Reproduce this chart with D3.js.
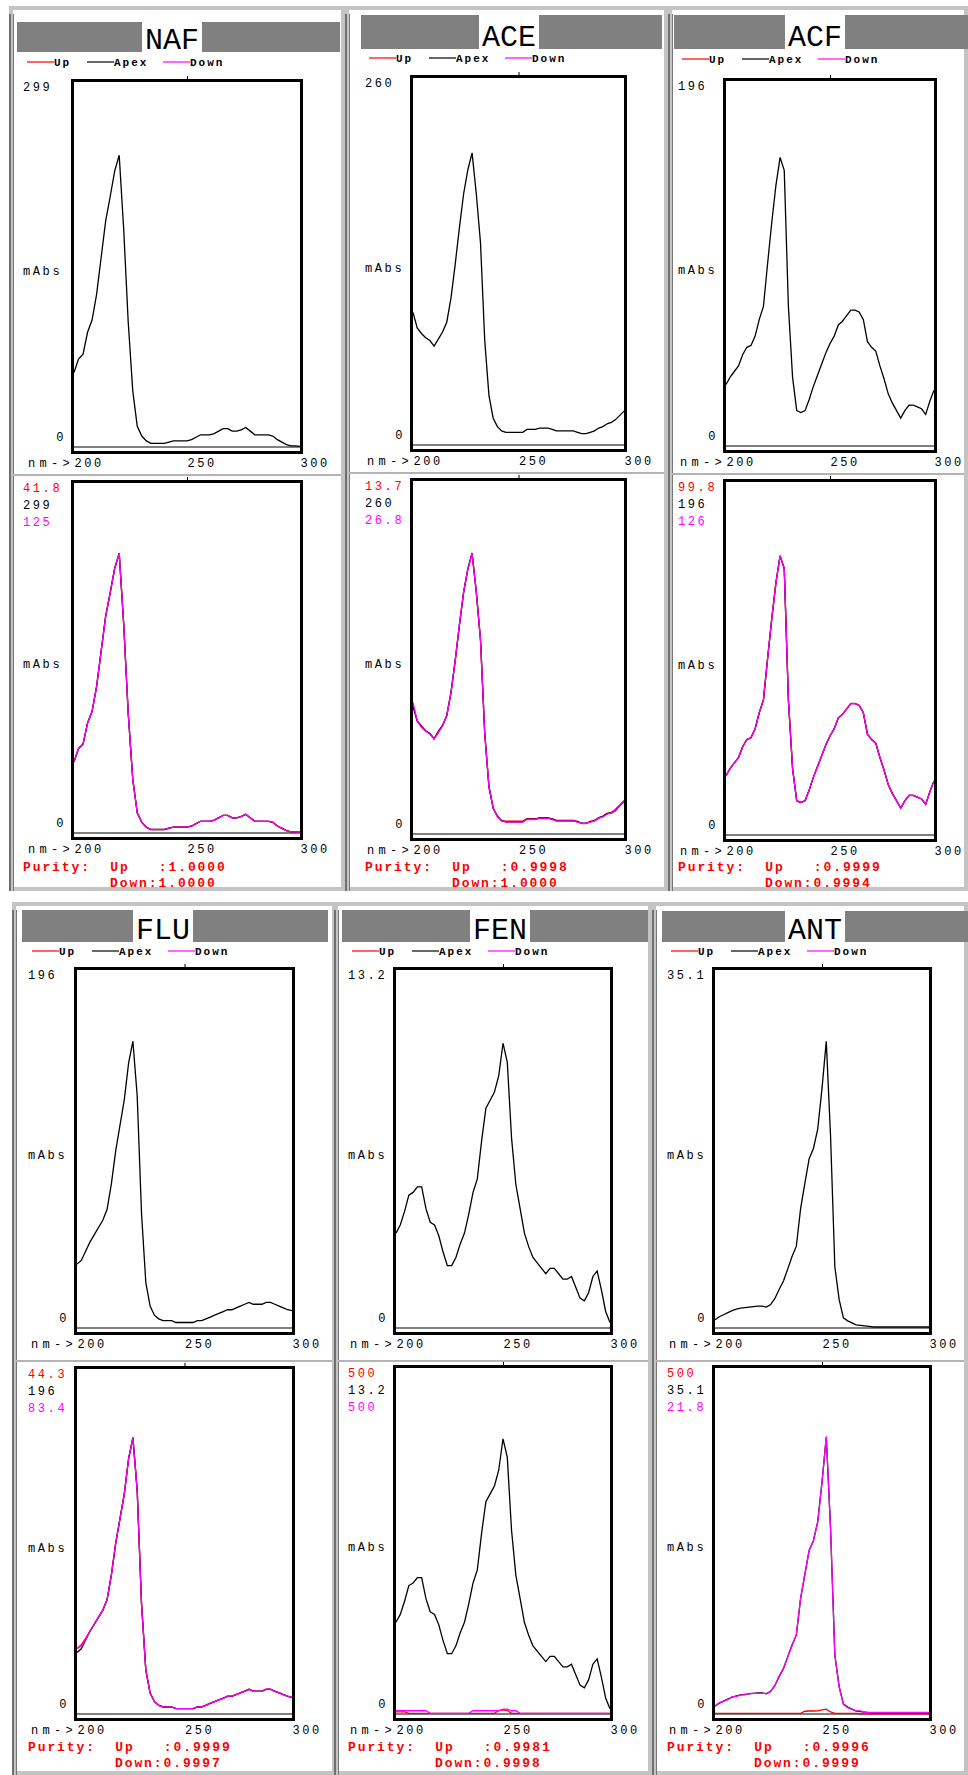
<!DOCTYPE html>
<html>
<head>
<meta charset="utf-8">
<script src="https://cdn.jsdelivr.net/npm/d3@7"></script>
<style>
body { margin: 0; background: #fff; }
svg text { font-family: "Liberation Mono", monospace; }
.pre { white-space: pre; }
</style>
</head>
<body>
<div id="chart"></div>
<script>
// wavelength grid shared by every spectrum (nm)
var wavelengths = [200,202,204,206,208,210,212,214,216,218,220,222,224,226,228,230,232,234,236,238,240,
                   242,244,246,248,250,252,254,256,258,260,262,264,266,268,270,272,274,276,278,280,
                   282,284,286,288,290,292,294,296,298,300];
var xTickValues = [200, 250, 300];
var seriesNames = ["Up", "Apex", "Down"];
var compounds = ["NAF", "ACE", "ACF", "FLU", "FEN", "ANT"];

// scale maxima printed on the plots: [up, apex, down]
var nafMax = [41.8, 299, 125];
var aceMax = [13.7, 260, 26.8];
var acfMax = [99.8, 196, 126];
var fluMax = [44.3, 196, 83.4];
var fenMax = [500, 13.2, 500];
var antMax = [500, 35.1, 21.8];

// purity: [up, down]
var nafPurity = ["1.0000", "1.0000"];
var acePurity = ["0.9998", "1.0000"];
var acfPurity = ["0.9999", "0.9994"];
var fluPurity = ["0.9999", "0.9997"];
var fenPurity = ["0.9981", "0.9998"];
var antPurity = ["0.9996", "0.9999"];

// spectra (mAbs)
var nafApex = [61,72,76,94,104,125,155,185,205,226,239,178,102,46,17,9,5,3,3,3,3,4,5,5,5,5,6,8,10,10,10,11,13,15,15,13,13,14,16,13,10,10,10,10,9,6,4,2,1,1,0.5];
var nafUp = [8.5,10.1,10.6,13.1,14.5,17.5,21.7,25.9,28.7,31.6,33.4,24.9,14.3,6.4,2.4,1.3,0.7,0.4,0.4,0.4,0.4,0.6,0.7,0.7,0.7,0.7,0.8,1.1,1.4,1.4,1.4,1.5,1.8,2.1,2.1,1.8,1.8,2.0,2.2,1.8,1.4,1.4,1.4,1.4,1.3,0.8,0.6,0.3,0.1,0.1,0.1];
var nafDown = [25.5,30.1,31.8,39.3,43.5,52.3,64.8,77.3,85.7,94.5,99.9,74.4,42.6,19.2,7.1,3.8,2.1,1.3,1.3,1.3,1.3,1.7,2.1,2.1,2.1,2.1,2.5,3.3,4.2,4.2,4.2,4.6,5.4,6.3,6.3,5.4,5.4,5.9,6.7,5.4,4.2,4.2,4.2,4.2,3.8,2.5,1.7,0.8,0.4,0.4,0.2];

var aceApex = [94,83,79,76,74,70,75,80,87,104,128,154,178,195,207,178,143,74,35,19,13,10,9,9,9,9,9,11,11,11,12,12,12,11,10,10,10,10,10,9,8,8,9,10,12,13,15,16,18,21,24];
var aceUp = [5.0,4.4,4.2,4.0,3.9,3.7,4.0,4.2,4.6,5.5,6.7,8.1,9.4,10.3,10.9,9.4,7.5,3.9,1.8,1.0,0.7,0.5,0.5,0.5,0.5,0.5,0.5,0.6,0.6,0.6,0.6,0.6,0.6,0.6,0.5,0.5,0.5,0.5,0.5,0.5,0.4,0.4,0.5,0.5,0.6,0.7,0.8,0.8,0.9,1.1,1.3];
var aceDown = [10.0,8.6,8.1,7.8,7.6,7.2,7.7,8.2,9.0,10.7,13.2,15.9,18.4,20.1,21.3,18.4,14.7,7.6,3.6,2.0,1.3,1.0,0.9,0.9,0.9,0.9,0.9,1.1,1.1,1.1,1.2,1.2,1.2,1.1,1.0,1.0,1.0,1.0,1.0,0.9,0.8,0.8,0.9,1.0,1.2,1.3,1.5,1.6,1.9,2.2,2.5];

var acfApex = [33,37,40,43,49,53,54,59,68,75,98,120,140,155,148,75,37,19,18,19,25,32,38,44,50,55,59,65,67,70,73,73,72,68,56,53,51,43,36,28,23,19,15,19,22,22,21,20,17,24,30];
var acfUp = [16.8,18.8,20.4,21.9,24.9,27.0,27.5,30.0,34.6,38.2,49.9,61.1,71.3,78.9,75.3,38.2,18.8,9.7,9.2,9.7,12.7,16.3,19.3,22.4,25.5,28.0,30.0,33.1,34.1,35.6,37.2,37.2,36.6,34.6,28.5,27.0,26.0,21.9,18.3,14.3,11.7,9.7,7.6,9.7,11.2,11.2,10.7,10.2,8.7,12.2,15.3];
var acfDown = [21.2,23.8,25.7,27.6,31.5,34.1,34.7,37.9,43.7,48.2,63.0,77.2,90.0,99.7,95.2,48.2,23.8,12.2,11.6,12.2,16.1,20.6,24.4,28.3,32.2,35.4,37.9,41.8,43.1,45.0,46.9,46.9,46.3,43.7,36.0,34.1,32.8,27.6,23.1,18.0,14.8,12.2,9.6,12.2,14.1,14.1,13.5,12.9,10.9,15.4,19.3];

var fluApex = [35,37,42,47,51,55,59,65,79,97,111,125,145,157,127,63,25,12,7,5,4,4,4,3,3,3,3,3,4,4,5,6,7,8,9,10,10,11,12,13,14,13,13,13,14,14,13,12,11,10,9.5];
var fluUp = [8.4,8.9,9.7,10.6,11.5,12.4,13.3,14.7,17.9,21.9,25.1,28.3,32.8,35.5,28.7,14.2,5.7,2.7,1.6,1.1,0.9,0.9,0.9,0.7,0.7,0.7,0.7,0.7,0.9,0.9,1.1,1.4,1.6,1.8,2.0,2.3,2.3,2.5,2.7,2.9,3.2,2.9,2.9,2.9,3.2,3.2,2.9,2.7,2.5,2.3,2.1];
var fluDown = [15.8,16.5,18.0,20.0,21.7,23.4,25.1,27.7,33.6,41.3,47.2,53.2,61.7,66.8,54.0,26.8,10.6,5.1,3.0,2.1,1.7,1.7,1.7,1.3,1.3,1.3,1.3,1.3,1.7,1.7,2.1,2.6,3.0,3.4,3.8,4.3,4.3,4.7,5.1,5.5,6.0,5.5,5.5,5.5,6.0,6.0,5.5,5.1,4.7,4.3,4.0];

var fenApex = [3.5,3.8,4.3,4.9,5.0,5.2,5.2,4.4,3.9,3.8,3.4,2.8,2.3,2.3,2.6,3.1,3.5,4.2,5.0,5.5,6.9,8.1,8.4,8.7,9.3,10.5,9.8,7.0,5.3,4.4,3.5,3.0,2.6,2.4,2.2,2.0,2.2,2.2,2.0,1.8,1.8,1.9,1.5,1.1,1.0,1.3,1.9,2.1,1.4,0.6,0.2];
var fenUp = [3,3,3,1,1,1,1,1,1,1,1,1,1,1,1,1,1,1,1,1,1,1,1,1,5,6,5,1,1,1,1,1,1,1,1,1,1,1,1,1,1,1,1,1,1,1,1,1,1,1,1];
var fenDown = [4.7,4.7,4.7,4.7,4.7,4.7,4.7,4.7,1,1,1,1,1,1,1,1,1,1,4.7,4.7,4.7,4.7,4.7,4.7,4.7,7,7,4.7,4.7,1,1,1,1,1,1,1,1,1,1,1,1,1,1,1,1,1,1,1,1,1,1];

var antApex = [0.8,1.1,1.3,1.5,1.7,1.85,1.95,2.0,2.05,2.1,2.15,2.15,2.05,2.3,2.9,3.8,4.6,5.8,7.0,8.0,11.7,14.2,16.6,17.6,19.5,23.5,28.1,18.8,6.0,2.8,1.0,0.7,0.5,0.3,0.25,0.2,0.15,0.1,0.1,0.1,0.1,0.1,0.1,0.1,0.1,0.1,0.1,0.1,0.1,0.1,0.1];
var antUp = [1,1,1,1,1,1,1,1,1,1,1,1,1,1,1,1,1,1,1,1,1,4,4.3,4.3,4.5,6,7,3,1,1,1,1,1,1,0.3,0.3,0.3,0.3,0.3,0.3,0.3,0.3,0.3,0.3,0.3,0.3,0.3,0.3,0.3,0.3,0.3];
var antDown = [0.5,0.7,0.8,0.9,1.1,1.1,1.2,1.2,1.3,1.3,1.3,1.3,1.3,1.4,1.8,2.4,2.9,3.6,4.3,5.0,7.3,8.8,10.3,10.9,12.1,14.6,17.5,11.7,3.7,1.7,0.6,0.4,0.3,0.2,0.2,0.1,0.1,0.1,0.1,0.1,0.1,0.1,0.1,0.1,0.1,0.1,0.1,0.1,0.1,0.1,0.1];

var colors = {Up: "#ff0000", Apex: "#000000", Down: "#ff00ff"};

// screen layout of each window: frame, title bar, plot boxes [x0, y0, x1, y1]
var layout = [
  {frame: [9, 6, 345, 891], bar: [17, 22, 340, 52], titleX: 172, legendY: 62, top: [71, 79, 303, 454], bottom: [71, 480, 303, 840], sep: 475, labelX: 23, purityY: 867},
  {frame: [345, 6, 668, 891], bar: [361, 15, 662, 49], titleX: 509, legendY: 58, top: [410, 75, 627, 452], bottom: [410, 478, 627, 841], sep: 473, labelX: 365, purityY: 867},
  {frame: [668, 6, 968, 891], bar: [674, 15, 968, 49], titleX: 815, legendY: 59, top: [723, 78, 937, 453], bottom: [723, 479, 937, 842], sep: 474, labelX: 678, purityY: 867},
  {frame: [12, 902, 336, 1775], bar: [22, 910, 328, 942], titleX: 163, legendY: 951, top: [74, 967, 295, 1335], bottom: [74, 1366, 295, 1721], sep: 1361, labelX: 28, purityY: 1747},
  {frame: [334, 902, 652, 1775], bar: [342, 910, 648, 942], titleX: 500, legendY: 951, top: [393, 967, 613, 1335], bottom: [393, 1365, 613, 1721], sep: 1361, labelX: 348, purityY: 1747},
  {frame: [652, 902, 968, 1775], bar: [662, 911, 968, 942], titleX: 815, legendY: 951, top: [712, 967, 932, 1335], bottom: [712, 1365, 932, 1721], sep: 1361, labelX: 667, purityY: 1747}
];

var panels = [
  {apex: nafApex, up: nafUp, down: nafDown, max: nafMax, purity: nafPurity},
  {apex: aceApex, up: aceUp, down: aceDown, max: aceMax, purity: acePurity},
  {apex: acfApex, up: acfUp, down: acfDown, max: acfMax, purity: acfPurity},
  {apex: fluApex, up: fluUp, down: fluDown, max: fluMax, purity: fluPurity},
  {apex: fenApex, up: fenUp, down: fenDown, max: fenMax, purity: fenPurity},
  {apex: antApex, up: antUp, down: antDown, max: antMax, purity: antPurity}
];

var svg = d3.select("#chart").append("svg")
    .attr("width", 968)
    .attr("height", 1775);

function small(g, x, y, txt, color) {
    return g.append("text")
        .attr("x", x).attr("y", y)
        .attr("font-size", 12)
        .attr("letter-spacing", 2.6)
        .attr("fill", color || "#000")
        .text(txt);
}

function plot(g, b, series, L) {
    var x = d3.scaleLinear().domain([200, 300]).range([b[0] + 3, b[2] - 3]);

    // zero line just above the bottom border
    g.append("line")
        .attr("x1", b[0] + 3).attr("x2", b[2] - 3)
        .attr("y1", b[3] - 7).attr("y2", b[3] - 7)
        .attr("stroke", "#000").attr("stroke-width", 1);

    series.forEach(function(s) {
        var y = d3.scaleLinear().domain([0, s.max]).range([b[3] - 7, b[1] + 3]);
        var line = d3.line()
            .x(function(d, i) { return x(wavelengths[i]); })
            .y(function(d) { return y(d); });
        g.append("path")
            .datum(s.values)
            .attr("d", line)
            .attr("fill", "none")
            .attr("stroke", s.color)
            .attr("stroke-width", 1.3);
    });

    g.append("rect")
        .attr("x", b[0] + 1.5).attr("y", b[1] + 1.5)
        .attr("width", b[2] - b[0] - 3).attr("height", b[3] - b[1] - 3)
        .attr("fill", "none").attr("stroke", "#000").attr("stroke-width", 3);

    // little tick on the top border
    g.append("g")
        .attr("transform", "translate(0," + b[1] + ")")
        .call(d3.axisTop(x).tickValues([250]).tickSize(3).tickFormat(""))
        .call(function(a) { a.select(".domain").remove(); });

    // x tick labels, left aligned on the ticks
    var ax = g.append("g")
        .attr("transform", "translate(0," + (b[3] + 2) + ")")
        .call(d3.axisBottom(x).tickValues(xTickValues).tickSize(0).tickPadding(2));
    ax.select(".domain").remove();
    ax.selectAll("text")
        .attr("text-anchor", "start")
        .attr("font-family", "Liberation Mono")
        .attr("font-size", 12)
        .attr("letter-spacing", 2.6)
        .attr("fill", "#000");
    small(g, x(200) - 46, b[3] + 13, "nm->").attr("letter-spacing", 4.3);

    small(g, L.labelX, (b[1] + b[3]) / 2 + 8, "mAbs");
    small(g, b[0] - 5, b[3] - 13, "0").attr("text-anchor", "end");
}

panels.forEach(function(p, k) {
    var L = layout[k];
    var g = svg.append("g");
    var f = L.frame;

    // window frame
    g.append("rect")
        .attr("x", f[0] + 2).attr("y", f[1] + 2)
        .attr("width", f[2] - f[0] - 4).attr("height", f[3] - f[1] - 4)
        .attr("fill", "#fff").attr("stroke", "#c4c4c4").attr("stroke-width", 4);
    g.append("line")
        .attr("x1", f[0] + 1).attr("x2", f[0] + 1)
        .attr("y1", f[1] + 8).attr("y2", f[3])
        .attr("stroke", "#555").attr("stroke-width", 1.5);
    g.append("line")
        .attr("x1", f[0] + 4.5).attr("x2", f[0] + 4.5)
        .attr("y1", f[1] + 8).attr("y2", f[3])
        .attr("stroke", "#777").attr("stroke-width", 1);
    g.append("line")
        .attr("x1", f[0] + 4).attr("x2", f[2] - 4)
        .attr("y1", L.sep).attr("y2", L.sep)
        .attr("stroke", "#b4b4b4").attr("stroke-width", 2);

    // title bar
    var bar = L.bar;
    g.append("rect")
        .attr("x", bar[0]).attr("y", bar[1])
        .attr("width", bar[2] - bar[0]).attr("height", bar[3] - bar[1])
        .attr("fill", "#808080");
    var gap = g.append("rect").attr("fill", "#fff");
    var title = g.append("text")
        .attr("x", L.titleX).attr("y", bar[3] - 3)
        .attr("text-anchor", "middle")
        .attr("font-family", "Liberation Sans, Arial, sans-serif")
        .attr("font-size", 30)
        .attr("fill", "#000")
        .text(compounds[k]);
    var tb = title.node().getBBox();
    gap.attr("x", tb.x - 3).attr("y", bar[1])
        .attr("width", tb.width + 6).attr("height", bar[3] - bar[1]);

    // legend
    var lx = [L.labelX + 4, L.labelX + 64, L.labelX + 140];
    seriesNames.forEach(function(name, i) {
        g.append("line")
            .attr("x1", lx[i]).attr("x2", lx[i] + 27)
            .attr("y1", L.legendY).attr("y2", L.legendY)
            .attr("stroke", colors[name]).attr("stroke-width", 1.2);
        small(g, lx[i] + 27, L.legendY + 4, name)
            .attr("font-size", 11).attr("letter-spacing", 2).attr("font-weight", "bold");
    });

    // top plot: apex spectrum only
    plot(g, L.top, [{values: p.apex, max: p.max[1], color: colors.Apex}], L);
    small(g, L.labelX, L.top[1] + 12, String(p.max[1]));

    // bottom plot: up, apex, down overlaid
    plot(g, L.bottom, [
        {values: p.up, max: p.max[0], color: colors.Up},
        {values: p.apex, max: p.max[1], color: colors.Apex},
        {values: p.down, max: p.max[2], color: colors.Down}
    ], L);
    seriesNames.forEach(function(name, i) {
        small(g, L.labelX, L.bottom[1] + 12 + 17 * i, String(p.max[i]), colors[name]);
    });

    // purity
    var pur = g.append("g")
        .attr("font-size", 13)
        .attr("font-weight", "bold")
        .attr("letter-spacing", 1.9)
        .attr("fill", "#ff0000");
    pur.append("text").attr("class", "pre").attr("xml:space", "preserve")
        .attr("x", L.labelX).attr("y", L.purityY + 4)
        .text("Purity:  Up   :" + p.purity[0]);
    pur.append("text").attr("class", "pre").attr("xml:space", "preserve")
        .attr("x", L.labelX + 87).attr("y", L.purityY + 20)
        .text("Down:" + p.purity[1]);
});
</script>
</body>
</html>
